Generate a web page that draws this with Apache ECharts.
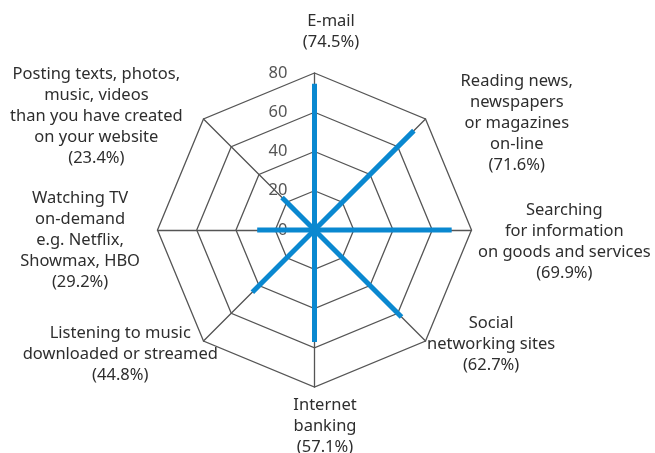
<!DOCTYPE html>
<html>
<head>
<meta charset="utf-8">
<script src="https://cdn.jsdelivr.net/npm/echarts@6/dist/echarts.min.js"></script>
<style>
  html, body { margin: 0; padding: 0; background: #fff; }
  #chart { width: 655px; height: 453px; }
</style>
</head>
<body>
<div id="chart"></div>
<script>
// indicators, in ECharts order (counter-clockwise from the top)
const categories = [
  'E-mail',
  'Posting texts, photos,\nmusic, videos\nthan you have created\non your website',
  'Watching TV\non-demand\ne.g. Netflix,\nShowmax, HBO',
  'Listening to music\ndownloaded or streamed',
  'Internet\nbanking',
  'Social\nnetworking sites',
  'Searching\nfor information\non goods and services',
  'Reading news,\nnewspapers\nor magazines\non-line'
]
const values = [74.5, 23.4, 29.2, 44.8, 57.1, 62.7, 69.9, 71.6]
const axisMax = 80
const tickLabels = [0, 20, 40, 60, 80]

// name placement per indicator (style only)
const nameLayout = [
  { gap: 20.5, align: 'center', verticalAlign: 'bottom', padding: [0, 0, 0, 33] },
  { gap: 4, align: 'right', verticalAlign: 'middle', padding: [0, 18, 0, 0] },
  { gap: 17.5, align: 'right', verticalAlign: 'middle', padding: [20, 0, 0, 0] },
  { gap: -26, align: 'right', verticalAlign: 'top', padding: [0, 4, 0, 0] },
  { gap: 7.5, align: 'center', verticalAlign: 'top', padding: [0, 0, 0, 21] },
  { gap: 2, align: 'left', verticalAlign: 'middle', padding: [3, 0, 0, 0] },
  { gap: 6.5, align: 'left', verticalAlign: 'middle', padding: [23, 0, 0, 0] },
  { gap: 10, align: 'left', verticalAlign: 'middle', padding: [23, 0, 0, 28] }
]

const font = '"Noto Sans", sans-serif'
const gridColor = '#555555'
const spokeColor = '#0a88d0'

const indicator = categories.map((c, i) => ({
  name: c + '\n(' + values[i].toFixed(1) + '%)',
  min: 0,
  max: axisMax,
  nameGap: nameLayout[i].gap,
  nameTextStyle: {
    align: nameLayout[i].align,
    verticalAlign: nameLayout[i].verticalAlign,
    padding: nameLayout[i].padding
  },
  axisLabel: { show: i === 0 }
}))

// one degenerate polygon per indicator -> a spoke from the centre
const spokes = values.map((v, i) => ({
  value: values.map((_, j) => (j === i ? v : 0))
}))

const chart = echarts.init(document.getElementById('chart'))
chart.setOption({
  animation: false,
  radar: {
    center: [314.5, 230],
    radius: 157,
    startAngle: 90,
    shape: 'polygon',
    splitNumber: tickLabels.length - 1,
    indicator: indicator,
    axisName: {
      formatter: name => name.split('\n').map(s => '{t|' + s + '}').join('\n'),
      rich: {
        t: { align: 'center', fontSize: 16.5, lineHeight: 21, color: '#2e2e2e', fontFamily: font }
      }
    },
    axisLabel: {
      show: false,
      margin: 27,
      fontSize: 16.5,
      color: '#555555',
      fontFamily: font
    },
    axisLine: { lineStyle: { color: gridColor, width: 1.3 } },
    splitLine: { lineStyle: { color: gridColor, width: 1.3 } },
    splitArea: { show: false },
    axisTick: { show: false }
  },
  series: [{
    type: 'radar',
    symbol: 'none',
    silent: true,
    lineStyle: { color: spokeColor, width: 5, join: 'bevel' },
    itemStyle: { color: spokeColor },
    data: spokes
  }]
})
</script>
</body>
</html>
